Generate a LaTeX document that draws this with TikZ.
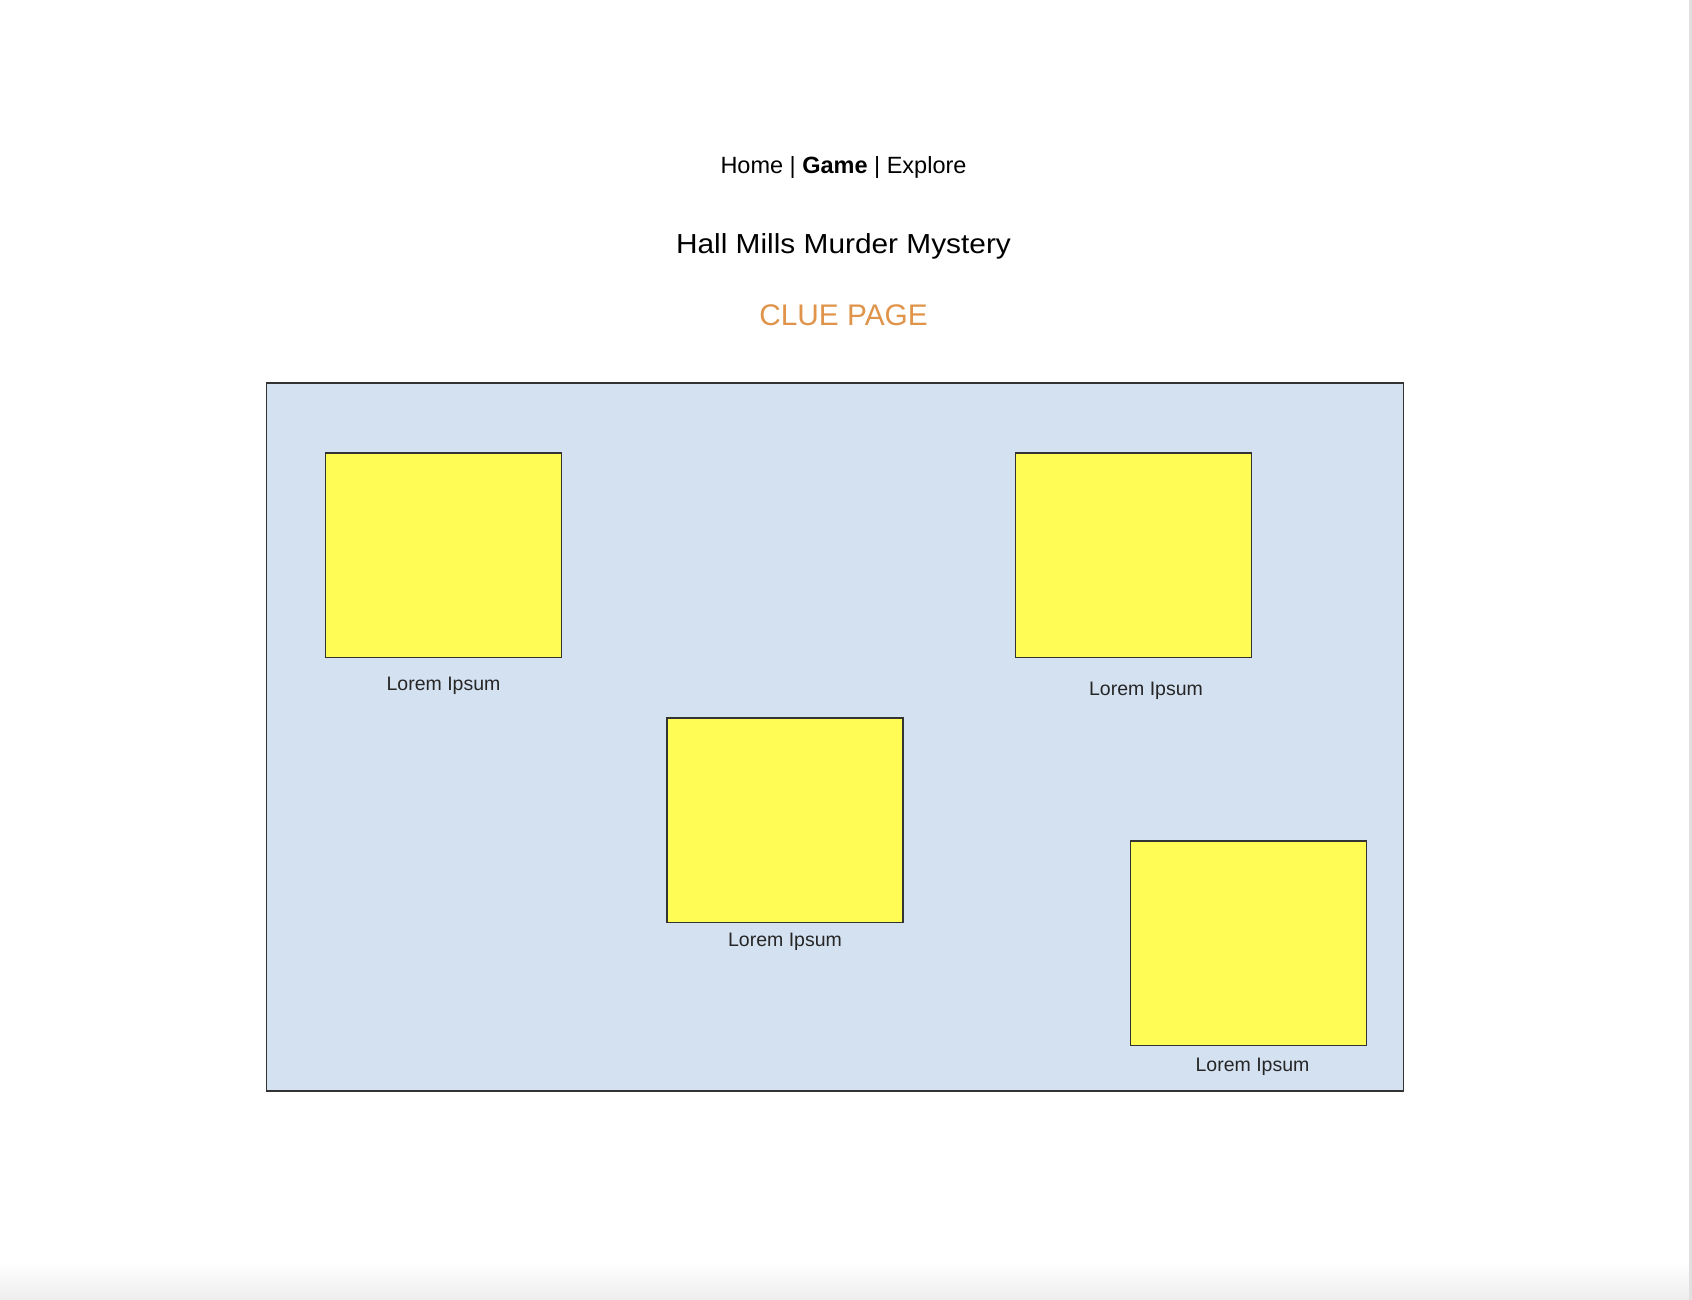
\documentclass[tikz,border=0pt]{standalone}
\usepackage{fontspec}
\setmainfont{Liberation Sans}
\usetikzlibrary{positioning}
\definecolor{boardblue}{HTML}{D4E1F1}
\definecolor{clueyellow}{HTML}{FEFC55}
\definecolor{clueorange}{HTML}{E0944A}
\definecolor{edgegray}{HTML}{333333}
\begin{document}
\begin{tikzpicture}[x=1pt,y=-1pt]
 \tikzstyle{board}=[rectangle,draw=edgegray,fill=boardblue,line width=1.3pt,minimum width=1137pt,minimum height=708pt,inner sep=0pt]
 \tikzstyle{clue}=[rectangle,draw=edgegray,fill=clueyellow,line width=1.3pt,minimum width=236pt,minimum height=204.5pt,inner sep=0pt]
 \tikzstyle{caption}=[inner sep=0pt,text=black!85,font=\fontsize{19.5}{22}\selectfont]
 %
 \useasboundingbox (0,0) rectangle (1692,1300);
 \fill[white] (0,0) rectangle (1692,1300);
 \shade[top color=white,bottom color=black!7] (0,1262) rectangle (1692,1300);
 \fill[black!12] (1689,0) rectangle (1692,1300);
 %
 \node[anchor=base,inner sep=0pt,font=\fontsize{23.5}{26}\selectfont] (nav) at (843.5,174) {Home | \textbf{Game} | Explore};
 \node[anchor=base,inner sep=0pt,font=\fontsize{27.5}{30}\selectfont] (title) at (843.5,253) {\scalebox{1.085}[1]{Hall Mills Murder Mystery}};
 \node[anchor=base,inner sep=0pt,text=clueorange,font=\fontsize{29.8}{32}\selectfont] (cluepage) at (843.5,325) {CLUE PAGE};
 %
 \node[board] (board) at (835.2,737) {};
 \node[clue] (c1) at (443.5,555.2) {};
 \node[clue] (c2) at (1133.5,555.2) {};
 \node[clue] (c3) at (785,820.1) {};
 \node[clue] (c4) at (1248.5,943.1) {};
 %
 \node[caption, below=32.8pt of c1, anchor=base] (l1) {Lorem Ipsum};
 \node[caption, below=37.8pt of c2, anchor=base, xshift=12.5pt] (l2) {Lorem Ipsum};
 \node[caption, below=23.4pt of c3, anchor=base] (l3) {Lorem Ipsum};
 \node[caption, below=25.4pt of c4, anchor=base, xshift=4pt] (l4) {Lorem Ipsum};
\end{tikzpicture}
\end{document}
